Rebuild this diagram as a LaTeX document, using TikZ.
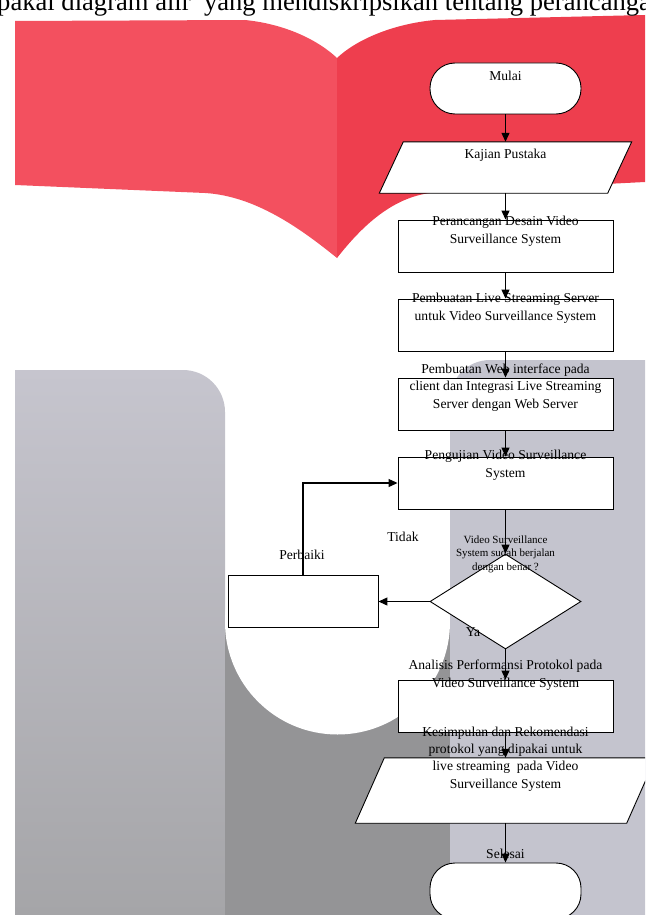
\documentclass[tikz,border=0pt]{standalone}
\usepackage{fontspec}
\setmainfont{Liberation Serif}
\usetikzlibrary{arrows.meta,shapes.geometric}
\definecolor{redA}{RGB}{243,80,95}
\definecolor{redB}{RGB}{238,62,78}
\definecolor{grayTop}{RGB}{198,197,206}
\definecolor{grayBot}{RGB}{165,165,168}
\definecolor{grayMid}{RGB}{148,148,150}
\definecolor{grayRight}{RGB}{196,196,206}
\begin{document}
\begin{tikzpicture}[x=1pt,y=-1pt,
  box/.style={draw=black, fill=white, line width=0.9pt, minimum width=215pt, minimum height=52pt, inner sep=0pt},
  term/.style={draw=black, fill=white, line width=0.9pt, rounded corners=25pt, minimum width=151pt, minimum height=51pt, inner sep=0pt},
  frame/.style={inner sep=0pt, draw=none},
  shapeline/.style={draw=black, fill=white, line width=0.9pt},
  lbl/.style={inner sep=0pt, anchor=base, align=center, font=\fontsize{13.6}{17.3}\selectfont},
  small/.style={inner sep=0pt, anchor=base, align=center, font=\fontsize{11}{13.2}\selectfont},
  arr/.style={line width=1.1pt, -{Triangle[length=9pt,width=8pt]}},
]
\useasboundingbox (0,0) rectangle (645,915);
\clip (0,0) rectangle (645,915);
% watermark: red book
\fill[redA] (15,21) -- (245,20) .. controls (285,24) and (318,40) .. (337,58) -- (337,258)
  .. controls (300,228) and (255,196) .. (205,193) -- (15,185) -- cycle;
\fill[redB] (337,58) .. controls (356,40) and (392,24) .. (435,20) -- (645,15) -- (645,182)
  -- (430,193) .. controls (392,198) and (362,226) .. (337,258) -- cycle;
% watermark: grey U
\shade[top color=grayTop, bottom color=grayBot] (15,915) -- (15,370) {[rounded corners=42pt] -- (225,370) -- (225,600)} -- (225,915) -- cycle;
\fill[grayMid] (225,622) rectangle (450,915);
\fill[white] (337.5,622) circle[radius=112.5];
\fill[grayRight] (645,915) -- (645,360) {[rounded corners=40pt] -- (450,360) -- (450,600)} -- (450,915) -- cycle;
% heading text (cut by the page edge, as in the source)
\node[inner sep=0pt, anchor=base west, font=\fontsize{26.6}{31}\selectfont] (ttl) at (-3,11) {\llap{di}pakai diagram alir~ yang mendiskripsikan tentang perancangan};
% flowchart shapes
\node[term] (start) at (505.5,88.5) {};
\node[frame, minimum width=252pt, minimum height=51pt] (kaj) at (505.5,167.5) {};
\draw[shapeline] ([xshift=24pt]kaj.north west) -- (kaj.north east) -- ([xshift=-24pt]kaj.south east) -- (kaj.south west) -- cycle;
\node[box] (b1) at (505.5,246) {};
\node[box] (b2) at (505.5,325) {};
\node[box] (b3) at (505.5,404) {};
\node[box] (b4) at (505.5,483) {};
\node[diamond, draw=black, fill=white, line width=0.9pt, minimum width=151pt, minimum height=95pt, inner sep=0pt] (dec) at (505.5,601.5) {};
\node[box, minimum width=150pt] (fix) at (303,601.5) {};
\node[box] (ana) at (505.5,706) {};
\node[frame, minimum width=300pt, minimum height=65pt] (kes) at (505.5,790.5) {};
\draw[shapeline] ([xshift=29pt]kes.north west) -- (kes.north east) -- ([xshift=-29pt]kes.south east) -- (kes.south west) -- cycle;
\node[term, minimum height=56pt] (end) at (505.5,891) {};
% texts (anchor = baseline of the last line)
\node[lbl] (t0) at (505.5,81) {Mulai};
\node[lbl] (t1) at (505.5,158) {Kajian Pustaka};
\node[lbl] (t2) at (505.5,243) {Perancangan Desain Video\\Surveillance System};
\node[lbl] (t3) at (505.5,320) {Pembuatan Live Streaming Server\\untuk Video Surveillance System};
\node[lbl] (t4) at (505.5,408) {Pembuatan Web interface pada\\client dan Integrasi Live Streaming\\Server dengan Web Server};
\node[lbl] (t5) at (505.5,477) {Pengujian Video Surveillance\\System};
\node[small] (t6) at (505.5,570) {Video Surveillance\\System sudah berjalan\\dengan benar ?};
\node[lbl] (t7) at (302,559) {Perbaiki};
\node[lbl] (t8) at (403,541) {Tidak};
\node[lbl] (t9) at (473,636) {Ya};
\node[lbl] (t10) at (505.5,687) {Analisis Performansi Protokol pada\\Video Surveillance System};
\node[lbl] (t11) at (505.5,788) {Kesimpulan dan Rekomendasi\\protokol yang dipakai untuk\\live streaming~ pada Video\\Surveillance System};
\node[lbl] (t12) at (505.5,858) {Selesai};
% connectors
\draw[arr] (start.south) -- (kaj.north);
\draw[arr] (kaj.south) -- (b1.north);
\draw[arr] (b1.south) -- (b2.north);
\draw[arr] (b2.south) -- (b3.north);
\draw[arr] (b3.south) -- (b4.north);
\draw[arr] (b4.south) -- (dec.north);
\draw[arr] (dec.west) -- (fix.east);
\draw[arr] (fix.north) |- (b4.west);
\draw[arr] (dec.south) -- (ana.north);
\draw[arr] (ana.south) -- (kes.north);
\draw[arr] (kes.south) -- (end.north);
\end{tikzpicture}
\end{document}
